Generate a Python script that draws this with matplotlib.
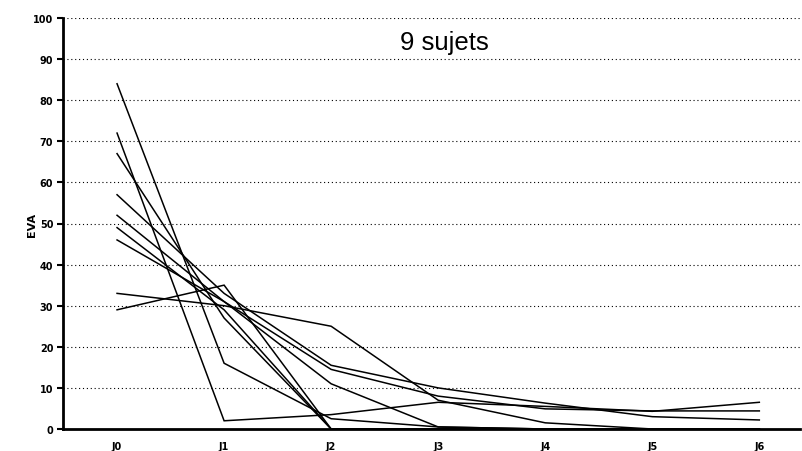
import numpy as np
import matplotlib
matplotlib.use("Agg")
import matplotlib.pyplot as plt
import matplotlib.transforms as mtransforms

days = ["J0", "J1", "J2", "J3", "J4", "J5", "J6"]
s1 = [84, 16, 2.5, 0.5, 0, 0, 0]
s2 = [72, 2, 3.5, 6.5, 5.5, 4.3, 6.5]
s3 = [67, 27, 0, 0, 0, 0, 0]
s4 = [57, 33, 15.5, 10, 6.3, 3, 2.2]
s5 = [52, 31, 14.5, 8, 4.9, 4.4, 4.4]
s6 = [49, 29, 0, 0, 0, 0, 0]
s7 = [46, 31, 11, 0.5, 0, 0, 0]
s8 = [33, 30, 25, 7, 1.5, 0, 0]
s9 = [29, 35, 0, 0, 0, 0, 0]
series = [s1, s2, s3, s4, s5, s6, s7, s8, s9]
yticks = list(range(0, 101, 10))

fig = plt.figure(figsize=(8.02, 4.52), dpi=100)
ax = fig.add_axes([63/802, 1-430/452, 737/802, 411/452])
x = np.arange(len(days))
for s in series:
    ax.plot(x, s, color="black", lw=1.1, solid_joinstyle="miter")

ax.set_ylim(0, 100)
ax.set_xlim(-0.505, 6.38)
ax.set_yticks(yticks)
ax.set_yticklabels([str(v) for v in yticks], fontsize=7, fontweight="bold", family="DejaVu Sans")
ax.set_xticks(x)
ax.set_xticklabels(days, fontsize=7, fontweight="bold", family="DejaVu Sans")
ax.tick_params(axis="x", length=0, pad=9)
ax.tick_params(axis="y", length=4, width=1.5, direction="out", pad=3)
for v in yticks[1:]:
    ax.axhline(v, color="black", lw=0.8, ls=(0, (1, 2.5)), zorder=0)
for sp in ["top", "right"]:
    ax.spines[sp].set_visible(False)
ax.spines["left"].set_linewidth(2)
ax.spines["bottom"].set_linewidth(2)
ax.set_ylabel("EVA", fontsize=8, fontweight="bold")
ax.yaxis.set_label_coords((37-63)/737, 0.5)
trans = mtransforms.blended_transform_factory(ax.transAxes, ax.transData)
ax.text(0.518, 92.5, "9 sujets", transform=trans, fontsize=18.5,
        family="Liberation Sans", ha="center", va="baseline")
fig.savefig("out.png", dpi=100)
